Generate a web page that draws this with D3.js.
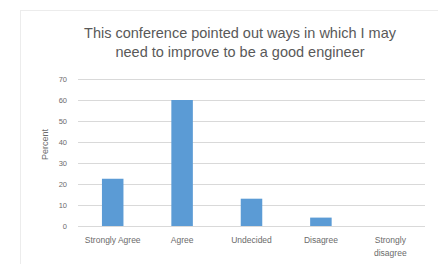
<!DOCTYPE html>
<html lang="en">

<head>
    <meta charset="UTF-8">
    <script src="https://d3js.org/d3.v7.min.js"></script>
    <title>Conference survey</title>
    <style>
        body { margin: 0; background: #fff; }
        text { font-family: "Liberation Sans", Arial, sans-serif; fill: #6b6b6b; }
    </style>
</head>

<body>
    <div id="chart"></div>

    <script>
        // data
        var categories = ["Strongly Agree", "Agree", "Undecided", "Disagree", "Strongly disagree"];
        var percents = [22.5, 60, 13, 4, 0];
        var yTicks = [0, 10, 20, 30, 40, 50, 60, 70];
        var titleLines = ["This conference pointed out ways in which I may", "need to improve to be a good engineer"];

        var W = 438, H = 264;
        var margin = { top: 79, right: 13, bottom: 38, left: 78 };
        var width = W - margin.left - margin.right;
        var height = H - margin.top - margin.bottom;

        var svg = d3.select("#chart").append("svg")
            .attr("width", W)
            .attr("height", H);

        // chart area border
        svg.append("rect")
            .attr("x", 20.5)
            .attr("y", 10.5)
            .attr("width", 430)
            .attr("height", 270)
            .attr("fill", "none")
            .attr("stroke", "#ececec");

        // title
        svg.append("text")
            .attr("x", 240)
            .attr("y", 38)
            .style("text-anchor", "middle")
            .style("font-size", "14.5px")
            .style("fill", "#595959")
            .selectAll("tspan")
            .data(titleLines)
            .enter()
            .append("tspan")
            .attr("x", 240)
            .attr("dy", function (d, i) { return i === 0 ? 0 : 19; })
            .text(function (d) { return d; });

        var g = svg.append("g")
            .attr("transform", "translate(" + margin.left + "," + margin.top + ")");

        var x = d3.scaleBand()
            .domain(categories)
            .range([0, width])
            .paddingInner(0.69)
            .paddingOuter(0.345);

        var y = d3.scaleLinear()
            .domain([0, 70])
            .range([height, 0]);

        // gridlines
        g.append("g")
            .selectAll("line")
            .data(yTicks)
            .enter()
            .append("line")
            .attr("x1", 0)
            .attr("x2", width)
            .attr("y1", function (d) { return Math.round(y(d)) + 0.5; })
            .attr("y2", function (d) { return Math.round(y(d)) + 0.5; })
            .attr("stroke", "#d9d9d9")
            .attr("stroke-width", 1);

        // y axis labels
        var yAxis = g.append("g")
            .call(d3.axisLeft(y).tickValues(yTicks).tickSize(0).tickPadding(11));
        yAxis.select(".domain").remove();
        yAxis.selectAll("text")
            .style("font-size", "7.5px");

        // Y label
        g.append("text")
            .attr("transform", "rotate(-90)")
            .attr("x", -height / 2 + 8)
            .attr("y", -30)
            .style("text-anchor", "middle")
            .style("font-size", "9px")
            .text("Percent");

        // bars
        g.append("g")
            .selectAll("rect")
            .data(percents)
            .enter()
            .append("rect")
            .attr("x", function (d, i) { return x(categories[i]); })
            .attr("width", x.bandwidth())
            .attr("y", function (d) { return y(d); })
            .attr("height", function (d) { return height - y(d); })
            .attr("fill", "#5b9bd5");

        // category labels
        var xAxis = g.append("g")
            .attr("transform", "translate(0," + height + ")")
            .call(d3.axisBottom(x).tickSize(0).tickPadding(0));
        xAxis.select(".domain").remove();
        xAxis.selectAll("text").remove();
        xAxis.selectAll(".tick").each(function (d) {
            var words = d === "Strongly disagree" ? ["Strongly", "disagree"] : [d];
            var t = d3.select(this).append("text")
                .attr("y", 17)
                .style("text-anchor", "middle")
                .style("font-size", "8.5px");
            words.forEach(function (w, i) {
                t.append("tspan").attr("x", 0).attr("dy", i === 0 ? 0 : 13).text(w);
            });
        });
    </script>
</body>

</html>
